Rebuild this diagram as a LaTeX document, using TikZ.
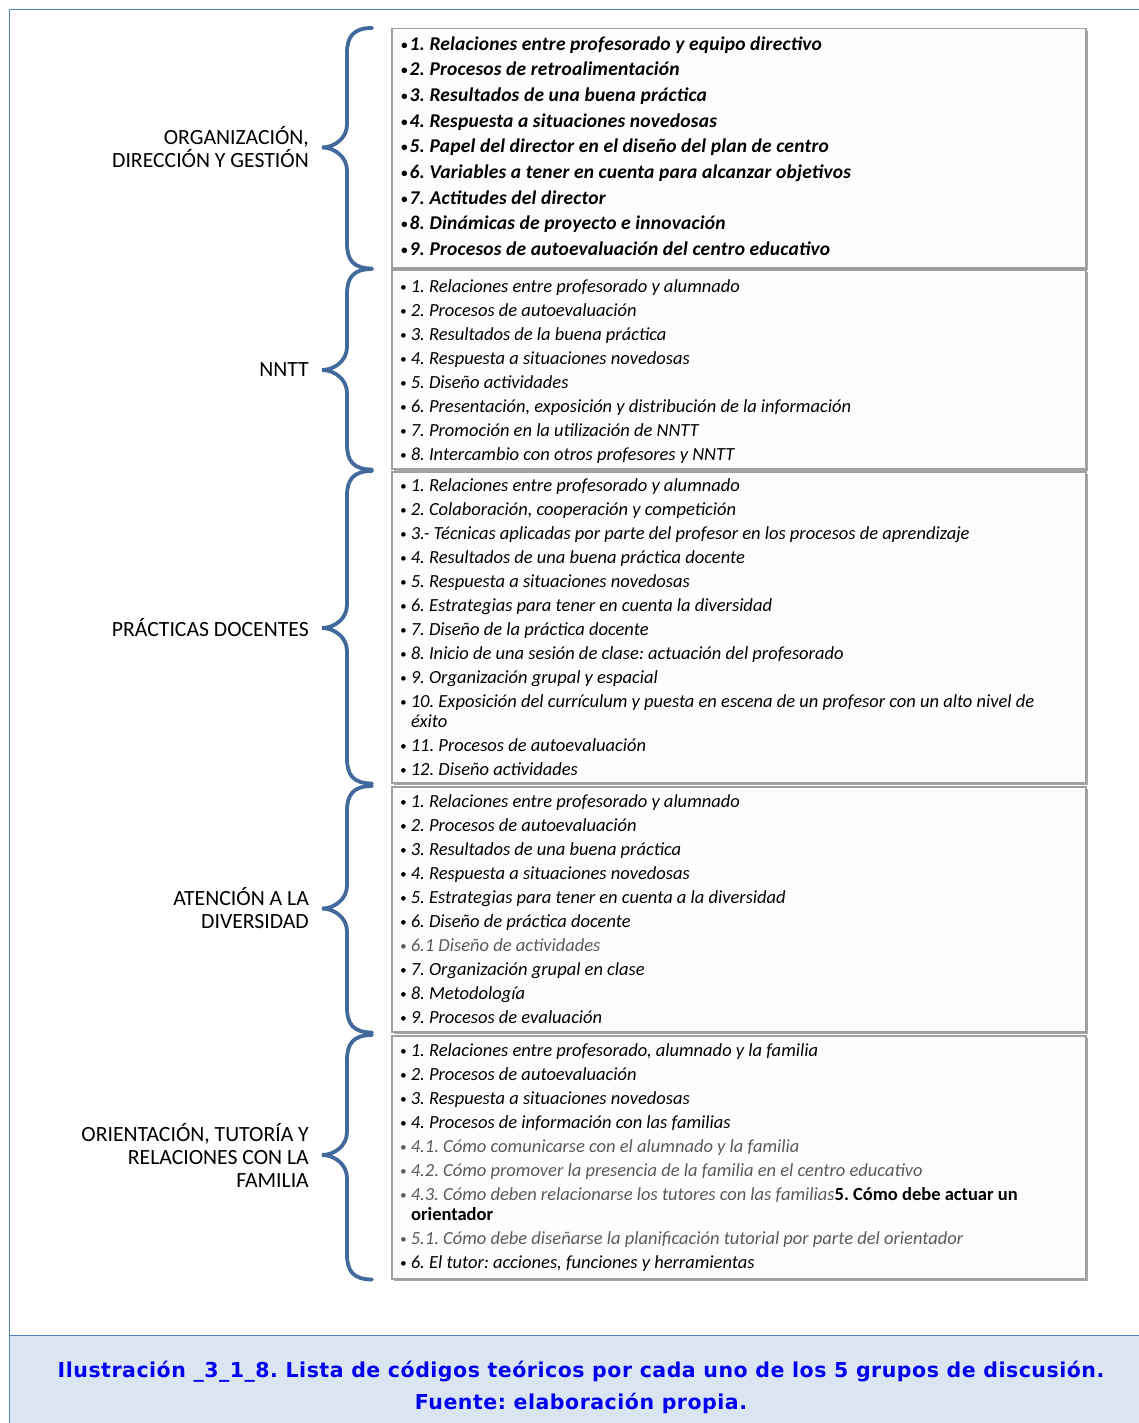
\documentclass[tikz,border=0pt]{standalone}
\usepackage{fontspec}
\setmainfont{Carlito}
\newfontfamily\capfont{DejaVu Sans}[LetterSpace=2.5]
\usetikzlibrary{calc,shadows}
\frenchspacing
\definecolor{framec}{HTML}{4F81BD}
\definecolor{capfill}{HTML}{DBE5F1}
\definecolor{bracec}{HTML}{41699B}
\definecolor{boxline}{HTML}{A0A0A0}
\definecolor{boxfill}{HTML}{FDFDFD}
\definecolor{capblue}{RGB}{0,0,240}
\definecolor{subgray}{HTML}{5A5A5A}

% small list bullet
\newcommand\bul{{\fontsize{13}{13}\selectfont\raisebox{1.3pt}{•}}}

% curly brace from the top to the bottom of a code box, tip pointing at the group label
\newcommand\groupbrace[2]{%
  \coordinate (#1-t) at ($(#1.north west)+(-19,0)$);
  \coordinate (#1-b) at ($(#1.south west)+(-19,0)$);
  \coordinate (#1-p) at ($(#2.east -| #1.west)+(-69,0)$);
  \draw[bracestyle] (#1-t) .. controls +(-19,0) and +(0,-16) .. ($(#1-t)+(-25,25)$)
    -- ($(#1-p)+(25,-23)$) .. controls +(0,14) and +(12,0) .. (#1-p)
    .. controls +(12,0) and +(0,-14) .. ($(#1-p)+(25,23)$)
    -- ($(#1-b)+(-25,-25)$) .. controls +(0,16) and +(-19,0) .. (#1-b);}

\begin{document}
\begin{tikzpicture}[x=1pt,y=-1pt,
  codebox/.style={draw=boxline, line width=1.5pt, fill=boxfill, anchor=north west,
    inner sep=0pt, minimum width=694pt,
    drop shadow={shadow xshift=2pt, shadow yshift=-2pt, opacity=.35, fill=black}},
  item/.style={anchor=mid west, inner sep=0pt, font=\fontsize{18.5}{22}\selectfont\itshape},
  itemb/.style={item, font=\fontsize{19.5}{22}\selectfont\bfseries\itshape\addfontfeature{LetterSpace=1}},
  sub/.style={item, text=subgray},
  grp/.style={anchor=east, align=right, inner sep=0pt, font=\fontsize{21.7}{23}\selectfont},
  caption/.style={anchor=mid, inner sep=0pt, text=capblue, font=\capfont\bfseries\fontsize{20.5}{22}\selectfont},
  bracestyle/.style={draw=bracec, line width=3.8pt, line cap=round}]

\useasboundingbox (0,0) rectangle (1139,1423);
\fill[white] (0,0) rectangle (1139,1423);

% frame and caption band
\fill[capfill] (9.5,1335) rectangle (1139,1423);
\draw[framec, line width=1pt] (1139,10) -- (9.5,10) -- (9.5,1423);
\draw[framec, line width=1pt] (9.5,1335) -- (1139,1335);

% code boxes
\node[codebox, minimum height=239pt] (b1) at (391,28) {};
\node[codebox, minimum height=199pt] (b2) at (391,269) {};
\node[codebox, minimum height=311pt] (b3) at (391,471) {};
\node[codebox, minimum height=245pt] (b4) at (391,786) {};
\node[codebox, minimum height=243pt] (b5) at (391,1035) {};

% group labels
\node[grp] (g1) at (309,147.5) {ORGANIZACIÓN,\\DIRECCIÓN Y GESTIÓN};
\node[grp] (g2) at (309,370) {NNTT};
\node[grp] (g3) at (309,628) {PRÁCTICAS DOCENTES};
\node[grp] (g4) at (309,908.5) {ATENCIÓN A LA\\DIVERSIDAD};
\node[grp] (g5) at (309,1155) {ORIENTACIÓN, TUTORÍA Y\\RELACIONES CON LA\\FAMILIA};

% braces
\groupbrace{b1}{g1}
\groupbrace{b2}{g2}
\groupbrace{b3}{g3}
\groupbrace{b4}{g4}
\groupbrace{b5}{g5}

% box 1
\node[itemb] (a1) at (401,48)  {\bul\kern2pt1. Relaciones entre profesorado y equipo directivo};
\node[itemb] (a2) at (401,73.5) {\bul\kern2pt2. Procesos de retroalimentación};
\node[itemb] (a3) at (401,99)  {\bul\kern2pt3. Resultados de una buena práctica};
\node[itemb] (a4) at (401,125) {\bul\kern2pt4. Respuesta a situaciones novedosas};
\node[itemb] (a5) at (401,150.5) {\bul\kern2pt5. Papel del director en el diseño del plan de centro};
\node[itemb] (a6) at (401,176) {\bul\kern2pt6. Variables a tener en cuenta para alcanzar objetivos};
\node[itemb] (a7) at (401,202) {\bul\kern2pt7. Actitudes del director};
\node[itemb] (a8) at (401,227.5) {\bul\kern2pt8. Dinámicas de proyecto e innovación};
\node[itemb] (a9) at (401,253) {\bul\kern2pt9. Procesos de autoevaluación del centro educativo};

% box 2
\node[item] (n1) at (400,290) {\bul\ 1. Relaciones entre profesorado y alumnado};
\node[item] (n2) at (400,314) {\bul\ 2. Procesos de autoevaluación};
\node[item] (n3) at (400,338) {\bul\ 3. Resultados de la buena práctica};
\node[item] (n4) at (400,362) {\bul\ 4. Respuesta a situaciones novedosas};
\node[item] (n5) at (400,386) {\bul\ 5. Diseño actividades};
\node[item] (n6) at (400,410) {\bul\ 6. Presentación, exposición y distribución de la información};
\node[item] (n7) at (400,434) {\bul\ 7. Promoción en la utilización de NNTT};
\node[item] (n8) at (400,458) {\bul\ 8. Intercambio con otros profesores y NNTT};

% box 3
\node[item] (p1) at (400,489) {\bul\ 1. Relaciones entre profesorado y alumnado};
\node[item] (p2) at (400,513) {\bul\ 2. Colaboración, cooperación y competición};
\node[item] (p3) at (400,537) {\bul\ 3.- Técnicas aplicadas por parte del profesor en los procesos de aprendizaje};
\node[item] (p4) at (400,561) {\bul\ 4. Resultados de una buena práctica docente};
\node[item] (p5) at (400,585) {\bul\ 5. Respuesta a situaciones novedosas};
\node[item] (p6) at (400,609) {\bul\ 6. Estrategias para tener en cuenta la diversidad};
\node[item] (p7) at (400,633) {\bul\ 7. Diseño de la práctica docente};
\node[item] (p8) at (400,657) {\bul\ 8. Inicio de una sesión de clase: actuación del profesorado};
\node[item] (p9) at (400,681) {\bul\ 9. Organización grupal y espacial};
\node[item] (p10) at (400,705) {\bul\ 10. Exposición del currículum y puesta en escena de un profesor con un alto nivel de};
\node[item] (p10b) at (411,725) {éxito};
\node[item] (p11) at (400,749) {\bul\ 11. Procesos de autoevaluación};
\node[item] (p12) at (400,773) {\bul\ 12. Diseño actividades};

% box 4
\node[item] (d1) at (400,805) {\bul\ 1. Relaciones entre profesorado y alumnado};
\node[item] (d2) at (400,829) {\bul\ 2. Procesos de autoevaluación};
\node[item] (d3) at (400,853) {\bul\ 3. Resultados de una buena práctica};
\node[item] (d4) at (400,877) {\bul\ 4. Respuesta a situaciones novedosas};
\node[item] (d5) at (400,901) {\bul\ 5. Estrategias para tener en cuenta a la diversidad};
\node[item] (d6) at (400,925) {\bul\ 6. Diseño de práctica docente};
\node[sub]  (d61) at (400,949) {\bul\ 6.1 Diseño de actividades};
\node[item] (d7) at (400,973) {\bul\ 7. Organización grupal en clase};
\node[item] (d8) at (400,997) {\bul\ 8. Metodología};
\node[item] (d9) at (400,1021) {\bul\ 9. Procesos de evaluación};

% box 5
\node[item] (o1) at (400,1054) {\bul\ 1. Relaciones entre profesorado, alumnado y la familia};
\node[item] (o2) at (400,1078) {\bul\ 2. Procesos de autoevaluación};
\node[item] (o3) at (400,1102) {\bul\ 3. Respuesta a situaciones novedosas};
\node[item] (o4) at (400,1126) {\bul\ 4. Procesos de información con las familias};
\node[sub]  (o41) at (400,1150) {\bul\ 4.1. Cómo comunicarse con el alumnado y la familia};
\node[sub]  (o42) at (400,1174) {\bul\ 4.2. Cómo promover la presencia de la familia en el centro educativo};
\node[sub]  (o43) at (400,1198) {\bul\ 4.3. Cómo deben relacionarse los tutores con las familias{\color{black}\upshape\bfseries 5. Cómo debe actuar un}};
\node[item] (o5b) at (411,1218) {\upshape\bfseries orientador};
\node[sub]  (o51) at (400,1242) {\bul\ 5.1. Cómo debe diseñarse la planificación tutorial por parte del orientador};
\node[item] (o6) at (400,1266) {\bul\ 6. El tutor: acciones, funciones y herramientas};

% caption
\node[caption] (c1) at (581,1375) {Ilustración \_3\_1\_8. Lista de códigos teóricos por cada uno de los 5 grupos de discusión.};
\node[caption] (c2) at (581,1407) {Fuente: elaboración propia.};
\end{tikzpicture}
\end{document}
